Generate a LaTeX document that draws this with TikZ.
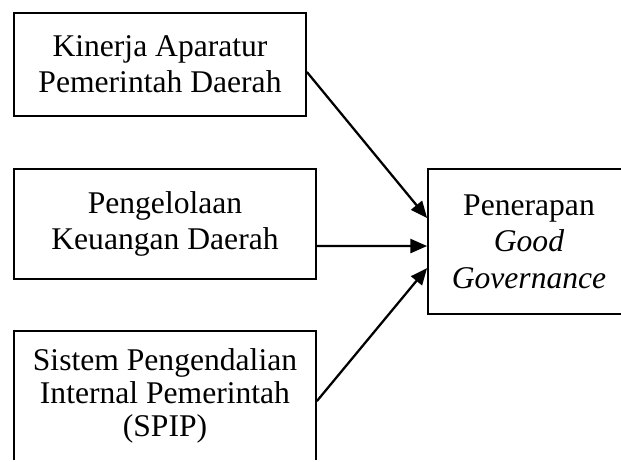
\documentclass[tikz,border=0pt]{standalone}
\usepackage{fontspec}
\setmainfont{Liberation Serif}
\usetikzlibrary{arrows.meta,calc}
\begin{document}
\begin{tikzpicture}[x=0.75pt,y=-0.75pt,
  boxnode/.style={draw=black,line width=1.35pt,align=center,inner sep=0pt,
    font=\fontsize{23.7}{27}\selectfont},
  arr/.style={line width=1.7pt,-{Triangle[length=12.5pt,width=10.5pt]}}]
\useasboundingbox (0,0) rectangle (621,461);
\clip (0,0) rectangle (621,459.5);
\node[boxnode,minimum width=219pt,minimum height=77.25pt] (b1) at (160,64.5)
  {Kinerja Aparatur\\Pemerintah Daerah};
\node[boxnode,minimum width=226.5pt,minimum height=82.5pt] (b2) at (165,224)
  {Pengelolaan\\Keuangan Daerah};
\node[boxnode,minimum width=226.5pt,minimum height=97.5pt,
  font=\fontsize{23.7}{25}\selectfont] (b3) at (165,396)
  {Sistem Pengendalian\\Internal Pemerintah\\(SPIP)};
\node[boxnode,minimum width=151.5pt,minimum height=108.75pt,
  font=\fontsize{23.7}{27.5}\selectfont] (gg) at (529,241.5)
  {Penerapan\\\textit{Good}\\\textit{Governance}};
\draw[arr] ([yshift=-5.6pt]b1.east) -- ([yshift=17.6pt]gg.west);
\draw[arr] ([yshift=-16.5pt]b2.east) -- ([yshift=-3.4pt]gg.west);
\draw[arr] ([yshift=-3.8pt]b3.east) -- ([yshift=-19.9pt]gg.west);
\end{tikzpicture}
\end{document}
